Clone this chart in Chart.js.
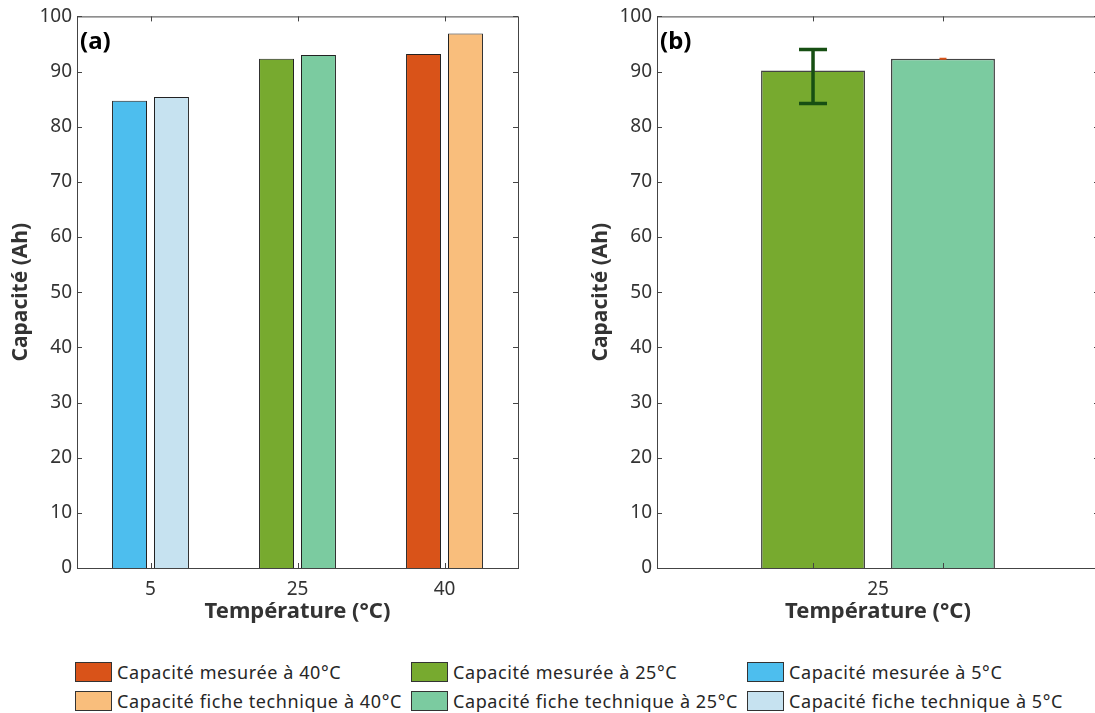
<!DOCTYPE html>
<html>
<head>
<meta charset="utf-8">
<script src="https://cdn.jsdelivr.net/npm/chart.js@4/dist/chart.umd.min.js"></script>
<style>
  html, body { margin: 0; padding: 0; background: #fff; overflow: hidden; width: 1095px; height: 713px; }
  .wrap { position: absolute; top: 0; height: 625px; width: 540px; }
  #wrapA { left: 0; }
  #wrapB { left: 580px; }
  .legend-item { position: absolute; font-family: "Noto Sans", sans-serif; font-size: 18px; color: #262626; line-height: 20px; white-space: nowrap; }
  .legend-item span.sw { position: absolute; left: 0; top: 0; width: 37px; height: 20px; border: 1px solid #333; box-sizing: border-box; }
  .legend-item span.tx { position: absolute; left: 42px; top: 0px; letter-spacing: 0.6px; }
</style>
</head>
<body>
<div class="wrap" id="wrapA"><canvas id="chartA"></canvas></div>
<div class="wrap" id="wrapB"><canvas id="chartB"></canvas></div>
<div id="legend"></div>
<script>
// panel (a)
var temperatures = ['5', '25', '40'];
var measured = [84.7, 92.3, 93.2];
var datasheet = [85.4, 93.0, 96.9];
var measuredColors = ['#4DBEEE', '#77AA2F', '#D95319'];
var datasheetColors = ['#C6E2F0', '#7BCBA0', '#F9BE7C'];

// panel (b)
var temperatureB = ['25'];
var measuredB = [90.2];
var datasheetB = [92.3];
var errLowB = [[84.2], [92.3]];
var errHighB = [[94.0], [92.3]];

var legendLabels = [
  'Capacité mesurée à 40°C', 'Capacité mesurée à 25°C', 'Capacité mesurée à 5°C',
  'Capacité fiche technique à 40°C', 'Capacité fiche technique à 25°C', 'Capacité fiche technique à 5°C'
];
var legendColors = ['#D95319', '#77AA2F', '#4DBEEE', '#F9BE7C', '#7BCBA0', '#C6E2F0'];

var FONT = '"Noto Sans", sans-serif';
var AXIS = '#444444';

// box + inward ticks like the original figure
var boxPlugin = {
  id: 'box',
  afterDraw: function(chart, args, opts) {
    var ctx = chart.ctx;
    var a = chart.chartArea;
    var y = chart.scales.y;
    ctx.save();
    ctx.strokeStyle = AXIS;
    ctx.lineWidth = 1;
    ctx.strokeRect(a.left + 0.5, a.top + 0.5, a.right - a.left, a.bottom - a.top);
    y.ticks.forEach(function(t) {
      var py = Math.round(y.getPixelForValue(t.value)) + 0.5;
      ctx.beginPath();
      ctx.moveTo(a.left, py); ctx.lineTo(a.left + 5, py);
      ctx.moveTo(a.right, py); ctx.lineTo(a.right - 5, py);
      ctx.stroke();
    });
    var xs = [];
    if (opts.barTicks) {
      chart.data.datasets.forEach(function(ds, i) {
        chart.getDatasetMeta(i).data.forEach(function(el) { xs.push(el.x); });
      });
    } else {
      var x = chart.scales.x;
      x.ticks.forEach(function(t, i) { xs.push(x.getPixelForTick(i)); });
    }
    xs.forEach(function(px) {
      px = Math.round(px) + 0.5;
      ctx.beginPath();
      ctx.moveTo(px, a.top); ctx.lineTo(px, a.top + 5);
      ctx.moveTo(px, a.bottom); ctx.lineTo(px, a.bottom - 5);
      ctx.stroke();
    });
    ctx.fillStyle = '#000';
    ctx.font = 'bold 24px ' + FONT;
    ctx.textAlign = 'left';
    ctx.textBaseline = 'alphabetic';
    ctx.fillText(opts.label, a.left + 3, a.top + 33);
    ctx.restore();
  }
};

var errorBarPlugin = {
  id: 'errorBars',
  afterDatasetsDraw: function(chart, args, opts) {
    if (!opts.low) return;
    var ctx = chart.ctx;
    var y = chart.scales.y;
    ctx.save();
    chart.data.datasets.forEach(function(ds, i) {
      chart.getDatasetMeta(i).data.forEach(function(el, j) {
        var y1 = y.getPixelForValue(opts.low[i][j]);
        var y2 = y.getPixelForValue(opts.high[i][j]);
        var cap = opts.cap[i] / 2;
        ctx.strokeStyle = opts.color[i];
        ctx.lineWidth = opts.width[i];
        ctx.beginPath();
        ctx.moveTo(el.x, y1); ctx.lineTo(el.x, y2);
        ctx.moveTo(el.x - cap, y1); ctx.lineTo(el.x + cap, y1);
        ctx.moveTo(el.x - cap, y2); ctx.lineTo(el.x + cap, y2);
        ctx.stroke();
      });
    });
    ctx.restore();
  }
};

function makeOptions(label, catPct, barPct, padRight, extra) {
  return {
    responsive: false,
    animation: false,
    maintainAspectRatio: false,
    layout: { padding: { top: 16, left: 0, right: padRight, bottom: 0 } },
    plugins: {
      legend: { display: false },
      tooltip: { enabled: false },
      box: { label: label, barTicks: extra.barTicks },
      errorBars: extra.errorBars || {}
    },
    datasets: { bar: { categoryPercentage: catPct, barPercentage: barPct } },
    scales: {
      x: {
        grid: { display: false, drawTicks: false },
        border: { display: false },
        ticks: { color: '#333', font: { family: FONT, size: 19 }, padding: 10 },
        title: { display: true, text: 'Température (°C)', color: '#333',
                 font: { family: FONT, size: 22, weight: 'bold' }, padding: { top: 0, bottom: 0 } },
        afterFit: function(s) { s.height = 57; }
      },
      y: {
        min: 0, max: 100,
        grid: { display: false, drawTicks: false },
        border: { display: false },
        ticks: { stepSize: 10, color: '#333', font: { family: FONT, size: 19 }, padding: 5 },
        title: { display: true, text: 'Capacité (Ah)', color: '#333',
                 font: { family: FONT, size: 21, weight: 'bold' }, padding: { top: 8, bottom: 8 } },
        afterFit: function(s) { s.width = 77; }
      }
    }
  };
}

function sizeCanvas(id) {
  var c = document.getElementById(id);
  c.width = 540; c.height = 625;
  c.style.width = '540px'; c.style.height = '625px';
  return c.getContext('2d');
}

new Chart(sizeCanvas('chartA'), {
  type: 'bar',
  data: {
    labels: temperatures,
    datasets: [
      { label: 'Mesurée', data: measured, backgroundColor: measuredColors, borderColor: '#222', borderWidth: 1 },
      { label: 'Fiche technique', data: datasheet, backgroundColor: datasheetColors, borderColor: '#222', borderWidth: 1 }
    ]
  },
  options: makeOptions('(a)', 0.571, 0.833, 22, { barTicks: false }),
  plugins: [boxPlugin]
});

new Chart(sizeCanvas('chartB'), {
  type: 'bar',
  data: {
    labels: temperatureB,
    datasets: [
      { label: 'Mesurée 25°C', data: measuredB, backgroundColor: '#77AA2F', borderColor: '#444', borderWidth: 1.5 },
      { label: 'Fiche technique 25°C', data: datasheetB, backgroundColor: '#7BCBA0', borderColor: '#444', borderWidth: 1.5 }
    ]
  },
  options: makeOptions('(b)', 0.588, 0.8, 21, {
    barTicks: true,
    errorBars: { low: errLowB, high: errHighB, color: ['#174F13', '#D95319'], width: [3.5, 2], cap: [28, 7] }
  }),
  plugins: [boxPlugin, errorBarPlugin]
});

// legend (3 columns x 2 rows)
var legend = document.getElementById('legend');
var colX = [75, 411, 747];
var rowY = [662, 691];
legendLabels.forEach(function(txt, i) {
  var d = document.createElement('div');
  d.className = 'legend-item';
  d.style.left = colX[i % 3] + 'px';
  d.style.top = rowY[Math.floor(i / 3)] + 'px';
  d.innerHTML = '<span class="sw" style="background:' + legendColors[i] + '"></span><span class="tx">' + txt + '</span>';
  legend.appendChild(d);
});
</script>
</body>
</html>
